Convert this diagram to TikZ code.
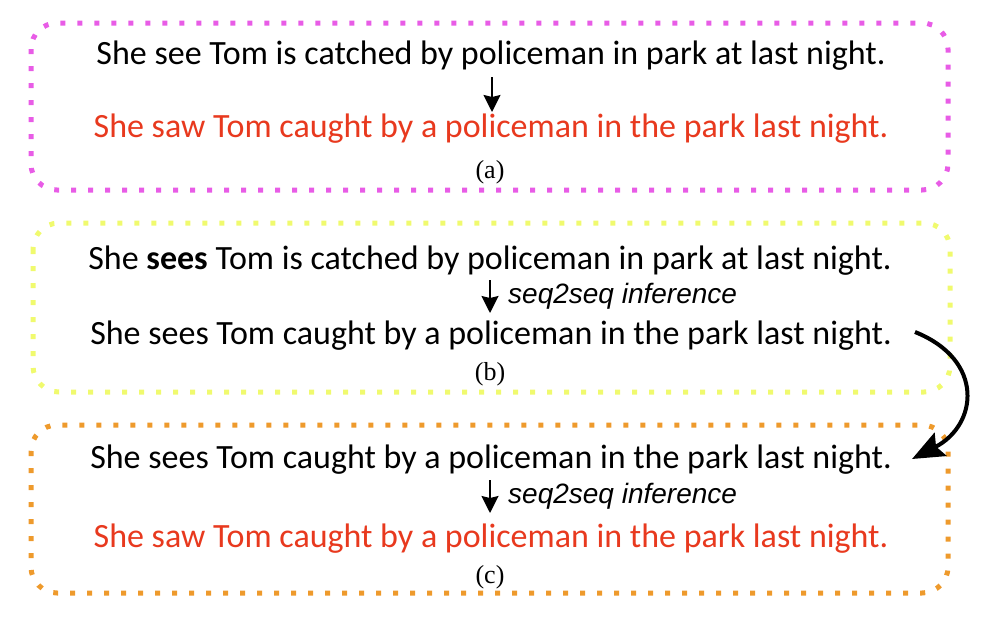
\documentclass[tikz,border=0pt]{standalone}
\usepackage{fontspec}
\setmainfont{Carlito}
\newfontfamily\infsans{Liberation Sans}
\newfontfamily\labserif{Liberation Serif}
\usepackage{xcolor,tikz}
\usetikzlibrary{arrows.meta,positioning,calc}
\definecolor{boxa}{HTML}{E85CE6}
\definecolor{boxb}{HTML}{F0FA6E}
\definecolor{boxc}{HTML}{EE9A2C}
\definecolor{outred}{HTML}{E8391E}

\begin{document}
\begin{tikzpicture}[x=1pt,y=-1pt,
  sent/.style={anchor=base,inner sep=0pt,font=\fontsize{34}{36}\selectfont},
  lab/.style={anchor=base,inner sep=0pt,font=\labserif\fontsize{26}{28}\selectfont},
  inf/.style={anchor=base west,inner sep=0pt,font=\infsans\itshape\fontsize{28}{30}\selectfont},
  dotbox/.style={line width=5pt,dash pattern=on 5pt off 12pt,rounded corners=26pt},
  down/.style={-{Stealth[length=17pt,width=17pt,inset=2pt]},line width=2pt}]
\useasboundingbox (0,0) rectangle (985,621);
% (a)
\draw[dotbox,boxa] (31,23) rectangle (948,190);
\node[sent] (a1) at (491,64) {She see Tom is catched by policeman in park at last night.};
\node[sent,text=outred] (a2) at (491,137) {She saw Tom caught by a policeman in the park last night.};
\node[lab] (alab) at (490,178) {(a)};
\coordinate (a1s) at (492,77);
\coordinate (a2n) at (492,112);
\draw[down] (a1s)--(a2n);
% (b)
\draw[dotbox,boxb] (33,223) rectangle (950,392);
\node[sent] (b1) at (490,269) {She \textbf{sees} Tom is catched by policeman in park at last night.};
\node[sent] (b2) at (491,344) {She sees Tom caught by a policeman in the park last night.};
\node[lab] (blab) at (490,380) {(b)};
\coordinate (b1s) at (490,280);
\coordinate (b2n) at (490,313);
\draw[down] (b1s)--(b2n);
\node[inf] (binf) at (508,303) {seq2seq inference};
% (c)
\draw[dotbox,boxc] (31,425) rectangle (948,593);
\node[sent] (c1) at (491,468) {She sees Tom caught by a policeman in the park last night.};
\node[sent,text=outred] (c2) at (491,547) {She saw Tom caught by a policeman in the park last night.};
\node[lab] (clab) at (490,583) {(c)};
\coordinate (c1s) at (490,480);
\coordinate (c2n) at (490,513);
\draw[down] (c1s)--(c2n);
\node[inf] (cinf) at (508,503) {seq2seq inference};
% b -> c
\coordinate (bend1) at (915,332);
\coordinate (bend2) at (912,459);
\draw[line width=4pt,-{Stealth[length=32pt,width=26pt,inset=5pt]}] (bend1) .. controls (985,360) and (978,425) .. (bend2);
\end{tikzpicture}
\end{document}
